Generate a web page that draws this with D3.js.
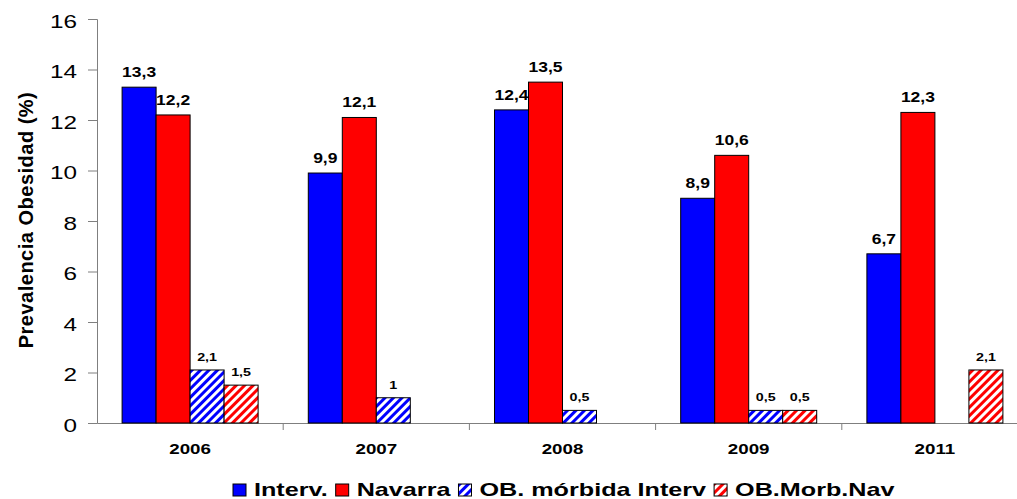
<!DOCTYPE html>
<html><head><meta charset="utf-8">
<script src="https://cdn.jsdelivr.net/npm/d3@7"></script>
<style>body{margin:0;background:#fff} text{font-family:Arial,"Liberation Sans",sans-serif;fill:#000}</style>
</head><body><svg id="c" width="1017" height="499"></svg>
<script>
const years = ["2006", "2007", "2008", "2009", "2011"];
const seriesNames = ["Interv.", "Navarra", "OB. mórbida Interv", "OB.Morb.Nav"];
const interv = [13.3, 9.9, 12.4, 8.9, 6.7];
const navarra = [12.2, 12.1, 13.5, 10.6, 12.3];
const morbInterv = [2.1, 1, 0.5, 0.5, null];
const morbNav = [1.5, null, null, 0.5, 2.1];
const yTicks = [0, 2, 4, 6, 8, 10, 12, 14, 16];
const yTitle = "Prevalencia Obesidad (%)";

const seriesValues = [interv, navarra, morbInterv, morbNav];
const fills = ["#0000FF", "#FF0000", "url(#hatchBlue)", "url(#hatchRed)"];

const svg = d3.select("#c");
const mLeft = 97, mBottom = 423, mTop = 19, mRight = 1028;
const x0 = d3.scaleBand().domain(years).range([mLeft, mRight]);
const x1 = d3.scaleBand().domain(seriesNames).range([0, x0.bandwidth()]).paddingOuter(0.738);
const y = d3.scaleLinear().domain([0, 16]).range([mBottom, mTop]);

const defs = svg.append("defs");
function hatch(id, color) {
  const p = defs.append("pattern").attr("id", id).attr("patternUnits", "userSpaceOnUse")
    .attr("width", 6).attr("height", 6).attr("patternTransform", "rotate(45)");
  p.append("rect").attr("width", 6).attr("height", 6).attr("fill", "#fff");
  p.append("rect").attr("width", 3).attr("height", 6).attr("fill", color);
}
hatch("hatchBlue", "#0000FF");
hatch("hatchRed", "#FF0000");

const fmt = v => String(v).replace(".", ",");
const axisColor = "#7f7f7f";

// y axis
const yAxis = svg.append("g").attr("transform", `translate(${mLeft},0)`)
  .call(d3.axisLeft(y).tickValues(yTicks).tickSize(9).tickFormat(d => d));
yAxis.select(".domain").attr("stroke", axisColor);
yAxis.selectAll(".tick line").attr("stroke", axisColor);
yAxis.selectAll(".tick text").each(function (d) {
  d3.select(this).attr("x", null).attr("dy", null)
    .attr("transform", `translate(-20,8) scale(1.35,1)`)
    .attr("text-anchor", "end").attr("font-size", 18).attr("fill", "#000");
});

// x axis
const xAxis = svg.append("g").attr("transform", `translate(0,${mBottom})`)
  .call(d3.axisBottom(x0).tickSize(0).tickSizeOuter(0));
xAxis.select(".domain").attr("stroke", axisColor);
xAxis.selectAll(".tick text").attr("y", null).attr("dy", null)
  .attr("transform", "translate(0,31) scale(1.25,1)")
  .attr("font-size", 15).attr("font-weight", "bold").attr("fill", "#000");
svg.append("g").selectAll("line").data(years.slice(1)).join("line")
  .attr("x1", d => x0(d)).attr("x2", d => x0(d))
  .attr("y1", mBottom).attr("y2", mBottom + 7).attr("stroke", axisColor);

// bars
const barData = [];
years.forEach((yr, i) => {
  seriesNames.forEach((s, j) => {
    const v = seriesValues[j][i];
    if (v != null) barData.push({ yr, s, j, v });
  });
});
svg.append("g").selectAll("rect").data(barData).join("rect")
  .attr("x", d => x0(d.yr) + x1(d.s))
  .attr("y", d => y(d.v))
  .attr("width", x1.bandwidth())
  .attr("height", d => mBottom - y(d.v))
  .attr("fill", d => fills[d.j])
  .attr("stroke", "#000").attr("stroke-width", 1);

svg.append("g").selectAll("text").data(barData).join("text")
  .attr("transform", d => {
    const cx = x0(d.yr) + x1(d.s) + x1.bandwidth() / 2;
    const big = d.j < 2;
    return `translate(${cx},${y(d.v) - (big ? 10 : 9)}) scale(${big ? 1.25 : 1.3},1)`;
  })
  .attr("text-anchor", "middle")
  .attr("font-weight", "bold")
  .attr("font-size", d => d.j < 2 ? 14 : 11)
  .text(d => fmt(d.v));

// y title
svg.append("text")
  .attr("transform", "translate(33,220) rotate(-90)")
  .attr("text-anchor", "middle").attr("font-weight", "bold").attr("font-size", 20)
  .attr("letter-spacing", 0.5)
  .text(yTitle);

// legend
const leg = svg.append("g");
let lx = 233;
const sx = 1.4;
seriesNames.forEach((s, j) => {
  leg.append("rect").attr("x", lx).attr("y", 484).attr("width", 13).attr("height", 12)
    .attr("fill", fills[j]).attr("stroke", "#000").attr("stroke-width", 1);
  const t = leg.append("text").attr("transform", `translate(${lx + 21},496) scale(${sx},1)`)
    .attr("font-weight", "bold").attr("font-size", 18).text(s);
  const w = t.node().getComputedTextLength() * sx;
  lx += 21 + w + 8;
});
</script></body></html>
